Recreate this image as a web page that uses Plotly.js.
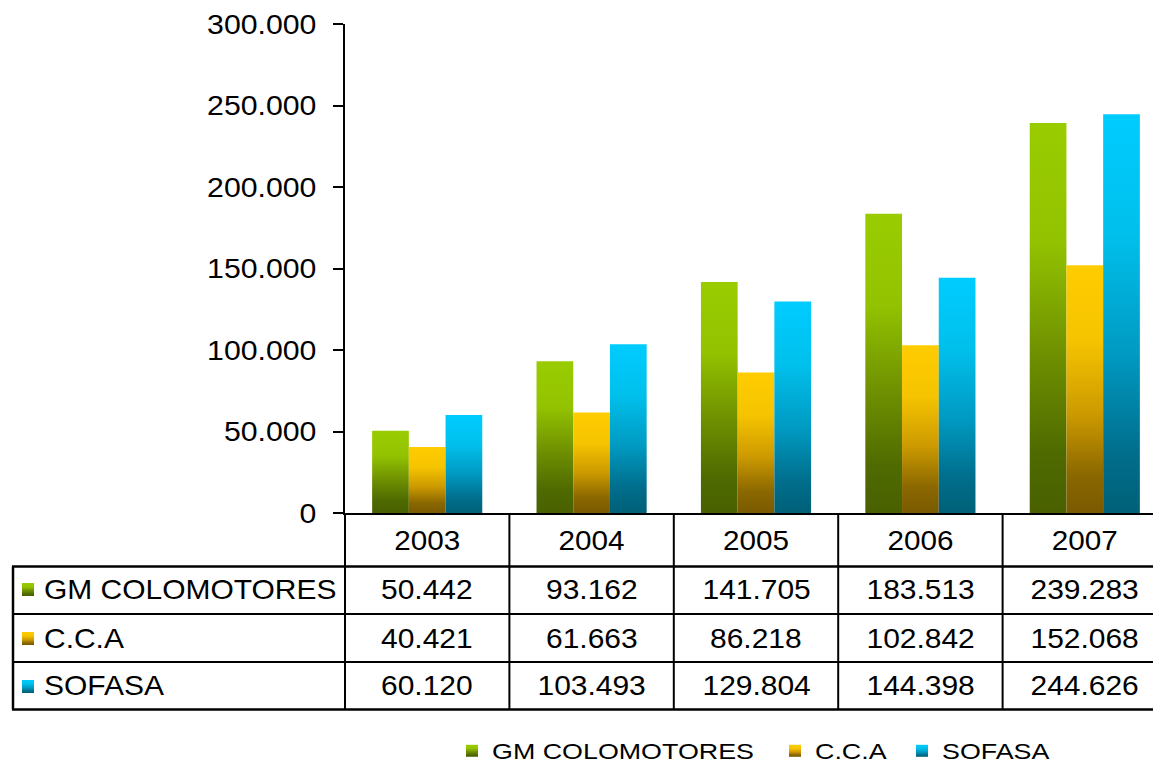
<!DOCTYPE html>
<html>
<head>
<meta charset="utf-8">
<script src="https://cdn.plot.ly/plotly-3.0.1.min.js"></script>
<style>
html,body{margin:0;padding:0;overflow:hidden;background:#fff}
#chart{width:1170px;height:765px}
</style>
</head>
<body>
<div id="chart"></div>
<script>
// ---- data ----
const years = ['2003', '2004', '2005', '2006', '2007'];
const seriesNames = ['GM COLOMOTORES', 'C.C.A', 'SOFASA'];
const gmColmotores = [50442, 93162, 141705, 183513, 239283];
const cca = [40421, 61663, 86218, 102842, 152068];
const sofasa = [60120, 103493, 129804, 144398, 244626];
const yTickValues = [0, 50000, 100000, 150000, 200000, 250000, 300000];

// ---- style ----
const FONT = 'Liberation Sans, Arial, sans-serif';
const gradients = [
  [[0, '#99CC00'], [0.3, '#93C300'], [0.6, '#6E8F00'], [0.85, '#4E6A00'], [1, '#4A6000']],
  [[0, '#FFCC00'], [0.3, '#F6C400'], [0.6, '#CC9A00'], [0.85, '#8A6700'], [1, '#7A5A00']],
  [[0, '#00CCFF'], [0.3, '#00C0EC'], [0.6, '#009AC2'], [0.85, '#006E8C'], [1, '#006078']]
];
const seriesValues = [gmColmotores, cca, sofasa];
const legendWidths = [278, 82, 110];

// geometry helpers (pixels -> paper)
const L = 345, R = 3, T = 24, B = 252, W = 1170, H = 765;
const PW = W - L - R, PH = H - T - B;
const xp = px => (px - L) / PW;
const yp = py => (H - B - py) / PH;

const rowCenters = [589, 638, 686];
const hLines = [[566.5, 2.5], [614, 2], [662, 2], [709.5, 2.5]];

const fmt = v => String(v).replace(/\B(?=(\d{3})+(?!\d))/g, '.');

const data = seriesValues.map((vals, i) => ({
  type: 'bar',
  name: seriesNames[i],
  x: years,
  y: vals,
  marker: {color: gradients[i][0][1], line: {width: 0}},
  legendwidth: legendWidths[i],
  hoverinfo: 'skip'
}));

const shapes = [];
hLines.forEach(([py, w]) => shapes.push({
  type: 'line', xref: 'paper', yref: 'paper', layer: 'above',
  x0: xp(12), x1: 1, y0: yp(py), y1: yp(py), line: {color: '#000', width: w}
}));
shapes.push({type: 'line', xref: 'paper', yref: 'paper', layer: 'above',
  x0: xp(13), x1: xp(13), y0: yp(566.5), y1: yp(709.5), line: {color: '#000', width: 2.5}});
for (let k = 0; k <= years.length; k++) {
  shapes.push({type: 'line', xref: 'paper', yref: 'paper', layer: 'above',
    x0: k / years.length, x1: k / years.length, y0: 0, y1: yp(709.5),
    line: {color: '#000', width: 2}});
}
const squareStart = shapes.length;
rowCenters.forEach((c, i) => shapes.push({
  type: 'rect', xref: 'paper', yref: 'paper', layer: 'above',
  x0: xp(22), x1: xp(34), y0: yp(c - 6), y1: yp(c + 7),
  fillcolor: gradients[i][0][1], line: {width: 0}
}));

const annotations = [];
seriesValues.forEach((vals, s) => {
  annotations.push({
    xref: 'paper', yref: 'paper', x: xp(42), y: yp(rowCenters[s]),
    xanchor: 'left', yanchor: 'middle', align: 'left', showarrow: false,
    text: seriesNames[s], font: {family: FONT, size: 28, color: '#000'}
  });
  vals.forEach((v, i) => annotations.push({
    xref: 'paper', yref: 'paper', x: (i + 0.5) / years.length, y: yp(rowCenters[s]),
    xanchor: 'center', yanchor: 'middle', showarrow: false,
    text: fmt(v), font: {family: FONT, size: 28, color: '#000'}
  }));
});

const layout = {
  width: W, height: H,
  margin: {l: L, r: R, t: T, b: B, autoexpand: false},
  paper_bgcolor: '#fff', plot_bgcolor: '#fff',
  separators: ',.',
  font: {family: FONT, size: 28, color: '#000'},
  barmode: 'group', bargap: 0.33, bargroupgap: 0,
  showlegend: true,
  xaxis: {
    type: 'category', range: [-0.5, 4.5],
    showline: true, linewidth: 2, linecolor: '#000',
    ticks: '', showgrid: false, zeroline: false,
    tickfont: {family: FONT, size: 28, color: '#000'},
    ticklabelstandoff: 1
  },
  yaxis: {
    range: [0, 300000], tickvals: yTickValues, tickformat: ',d',
    ticks: 'outside', ticklen: 10, tickwidth: 2, tickcolor: '#000',
    showline: true, linewidth: 2, linecolor: '#000',
    showgrid: false, zeroline: false,
    tickfont: {family: FONT, size: 28, color: '#000'},
    ticklabelstandoff: 11
  },
  legend: {
    orientation: 'h', x: xp(452), xanchor: 'left', y: yp(751), yanchor: 'middle',
    font: {family: FONT, size: 22, color: '#000'}, bgcolor: 'rgba(0,0,0,0)',
    traceorder: 'normal', tracegroupgap: 0
  },
  shapes: shapes,
  annotations: annotations
};

Plotly.newPlot('chart', data, layout, {staticPlot: true, displayModeBar: false}).then(gd => {
  const NS = 'http://www.w3.org/2000/svg';
  const svg = gd.querySelector('svg.main-svg');
  let defs = svg.querySelector('defs');
  if (!defs) { defs = document.createElementNS(NS, 'defs'); svg.insertBefore(defs, svg.firstChild); }
  gradients.forEach((stops, i) => {
    const g = document.createElementNS(NS, 'linearGradient');
    g.setAttribute('id', 'bargrad' + i);
    g.setAttribute('x1', '0'); g.setAttribute('y1', '0');
    g.setAttribute('x2', '0'); g.setAttribute('y2', '1');
    stops.forEach(([o, c]) => {
      const st = document.createElementNS(NS, 'stop');
      st.setAttribute('offset', o); st.setAttribute('stop-color', c);
      g.appendChild(st);
    });
    defs.appendChild(g);
  });
  gd.querySelectorAll('.barlayer .trace').forEach((tr, i) => {
    tr.querySelectorAll('path').forEach(p => { p.style.fill = 'url(#bargrad' + i + ')'; });
  });
  gd.querySelectorAll('.legend .traces').forEach((tr, i) => {
    tr.querySelectorAll('.legendpoints path').forEach(p => { p.style.fill = 'url(#bargrad' + i + ')'; });
  });
  for (let i = 0; i < 3; i++) {
    gd.querySelectorAll('path[data-index="' + (squareStart + i) + '"]').forEach(p => {
      p.style.fill = 'url(#bargrad' + i + ')';
    });
  }
  const stretch = (sel, k) => gd.querySelectorAll(sel).forEach(t => {
    const w = t.getComputedTextLength();
    if (w > 0) { t.setAttribute('textLength', (w * k).toFixed(2)); t.setAttribute('lengthAdjust', 'spacingAndGlyphs'); }
  });
  stretch('.ytick text', 1.08);
  stretch('.xtick text', 1.06);
  stretch('.annotation-text', 1.07);
  stretch('.legendtext', 1.22);
});
</script>
</body>
</html>
